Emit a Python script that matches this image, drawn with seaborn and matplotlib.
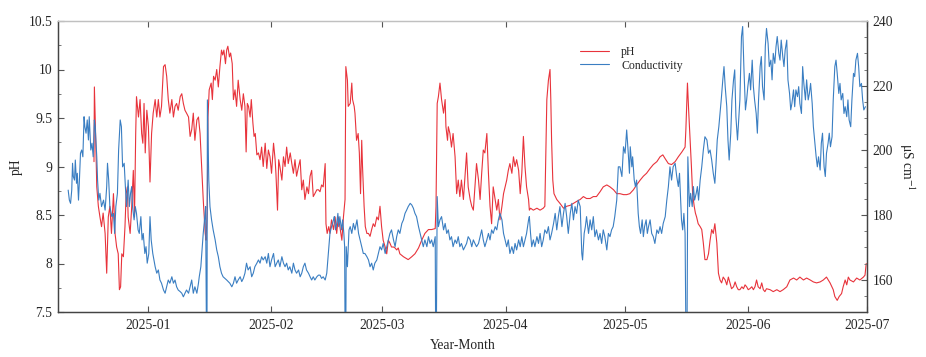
import numpy as np
import pandas as pd
import matplotlib
matplotlib.use("Agg")
import matplotlib.pyplot as plt
import matplotlib.dates as mdates
from matplotlib.ticker import MultipleLocator
import seaborn as sns

# ---------------- data (days relative to 2025-01-01) ----------------
ph_day = [
    -13.6, -13.5, -13.2, -12.9, -12.5, -12.1, -11.7, -11.3, -10.8, -10.4,
    -10.0, -9.6, -9.2, -8.7, -8.3, -7.9, -7.5, -7.2, -6.9, -6.6,
    -6.2, -5.8, -5.5, -5.2, -5.0, -4.5, -4.1, -3.7, -3.4, -3.1,
    -2.9, -2.4, -2.0, -1.6, -1.3, -1.0, -0.7, -0.3, 0.1, 0.5,
    0.9, 1.3, 1.8, 2.2, 2.6, 3.0, 3.4, 3.9, 4.3, 4.7,
    5.1, 5.5, 6.0, 6.4, 6.8, 7.2, 7.6, 8.1, 8.5, 8.9,
    9.3, 9.7, 10.2, 10.6, 11.0, 11.4, 11.8, 12.3, 12.7, 13.1,
    13.5, 13.9, 14.4, 14.6, 14.9, 15.1, 15.4, 15.9, 16.2, 16.5,
    16.9, 17.3, 17.7, 18.1, 18.5, 18.8, 19.1, 19.5, 19.8, 20.1,
    20.5, 20.8, 21.2, 21.5, 21.9, 22.3, 22.7, 23.2, 23.6, 24.0,
    24.4, 24.7, 25.0, 25.3, 25.7, 26.0, 26.4, 26.7, 27.0, 27.4,
    27.8, 28.2, 28.6, 29.0, 29.5, 29.9, 30.3, 30.7, 31.1, 31.6,
    32.0, 32.2, 32.6, 32.9, 33.2, 33.7, 34.1, 34.5, 34.9, 35.3,
    35.8, 36.2, 36.6, 37.0, 37.4, 37.9, 38.3, 38.7, 39.1, 39.5,
    40.0, 40.4, 40.8, 41.2, 41.6, 42.0, 42.5, 42.9, 43.3, 43.7,
    44.1, 44.6, 44.8, 45.1, 45.5, 45.8, 46.2, 46.7, 47.1, 47.5,
    47.9, 48.3, 48.8, 49.2, 49.6, 49.8, 50.2, 50.4, 50.9, 51.3,
    51.5, 51.9, 52.1, 52.5, 52.9, 53.2, 53.5, 53.8, 54.0, 54.4,
    54.7, 55.1, 55.5, 55.9, 56.3, 56.7, 57.1, 57.6, 58.0, 58.4,
    58.8, 59.2, 59.7, 60.1, 60.5, 60.9, 61.3, 61.8, 62.2, 62.6,
    63.0, 63.4, 64.3, 65.1, 65.5, 66.4, 67.2, 68.1, 68.9, 69.7,
    70.6, 71.4, 72.3, 72.5, 72.8, 73.1, 73.5, 73.9, 74.4, 74.8,
    75.0, 75.4, 75.6, 76.0, 76.4, 76.8, 77.3, 77.7, 78.1, 78.5,
    78.9, 79.4, 79.8, 80.2, 80.6, 81.1, 81.5, 81.9, 82.3, 82.7,
    83.2, 83.6, 84.0, 84.4, 84.8, 85.3, 85.7, 86.1, 86.5, 86.9,
    87.4, 87.8, 88.2, 88.6, 89.1, 89.5, 89.9, 90.3, 90.7, 91.1,
    91.6, 92.0, 92.4, 92.8, 93.3, 93.7, 94.1, 94.5, 94.9, 95.3,
    95.8, 96.0, 96.3, 97.0, 97.9, 98.7, 99.5, 99.9, 100.4, 100.8,
    101.2, 101.4, 101.6, 101.9, 102.2, 102.9, 103.7, 104.6, 105.4, 106.3,
    107.1, 107.9, 108.8, 109.6, 110.4, 111.3, 112.1, 112.9, 113.8, 114.6,
    115.5, 116.3, 117.2, 118.0, 118.8, 119.7, 120.5, 121.3, 122.2, 123.0,
    123.9, 124.7, 125.5, 126.4, 127.2, 128.1, 128.9, 129.6, 130.2, 131.0,
    131.8, 132.7, 133.5, 134.4, 135.2, 135.4, 135.8, 136.1, 136.4, 136.8,
    137.1, 137.5, 137.8, 138.1, 138.5, 139.0, 139.4, 139.8, 140.2, 140.7,
    141.1, 141.5, 141.9, 142.3, 142.7, 143.2, 143.6, 144.0, 144.4, 144.8,
    145.3, 145.7, 146.1, 146.5, 146.9, 147.4, 147.8, 148.2, 148.6, 149.0,
    149.5, 149.9, 150.3, 150.7, 151.1, 151.5, 152.0, 152.4, 152.8, 153.2,
    153.6, 154.1, 154.5, 154.9, 155.3, 155.7, 156.6, 157.4, 158.3, 159.1,
    159.9, 160.8, 161.6, 162.5, 163.3, 164.1, 165.0, 165.8, 166.7, 167.5,
    168.3, 169.2, 170.0, 170.8, 171.7, 172.5, 172.9, 173.5, 174.0, 174.6,
    175.0, 175.5, 175.9, 176.3, 176.7, 177.6, 178.4, 179.2, 180.1, 180.5,
    180.8,
]
ph_val = [
    9.05, 9.82, 9.34, 8.79, 8.59, 8.48, 8.38, 8.52, 8.31, 7.90,
    8.48, 8.59, 8.31, 8.72, 8.31, 8.17, 8.10, 7.73, 7.76, 8.10,
    8.07, 8.38, 8.72, 8.79, 8.48, 8.31, 8.59, 8.96, 8.48, 9.34,
    9.72, 9.51, 9.69, 9.34, 9.24, 9.65, 9.14, 9.58, 9.41, 8.84,
    9.34, 9.55, 9.69, 9.51, 9.69, 9.51, 9.62, 10.03, 10.05, 9.93,
    9.69, 9.55, 9.69, 9.51, 9.62, 9.65, 9.58, 9.72, 9.75, 9.65,
    9.58, 9.55, 9.51, 9.31, 9.38, 9.55, 9.27, 9.48, 9.51, 9.34,
    9.00, 8.66, 8.31, 8.24, 8.52, 9.51, 9.79, 9.86, 9.69, 9.93,
    9.89, 10.00, 9.82, 10.03, 10.20, 10.15, 10.20, 10.06, 10.20, 10.24,
    10.13, 10.17, 10.06, 9.69, 9.79, 9.62, 9.89, 9.69, 9.58, 9.75,
    9.62, 9.15, 9.65, 9.62, 9.51, 9.69, 9.45, 9.31, 9.34, 9.12,
    9.14, 9.07, 9.20, 9.00, 9.24, 8.98, 9.17, 9.10, 8.93, 9.24,
    9.07, 8.93, 8.55, 9.07, 9.00, 8.86, 9.10, 9.00, 9.20, 9.03,
    9.14, 9.03, 8.93, 9.07, 8.90, 9.00, 9.07, 8.76, 8.86, 8.66,
    8.79, 8.72, 8.90, 8.96, 8.69, 8.72, 8.76, 8.76, 8.74, 8.81,
    8.79, 9.03, 8.41, 8.31, 8.38, 8.31, 8.45, 8.35, 8.48, 8.31,
    8.48, 8.38, 8.24, 8.48, 8.66, 10.03, 9.89, 9.62, 9.65, 9.86,
    9.69, 9.62, 9.55, 9.27, 9.34, 9.14, 8.72, 9.27, 9.00, 8.59,
    8.38, 8.31, 8.31, 8.28, 8.35, 8.41, 8.38, 8.48, 8.45, 8.59,
    8.38, 8.24, 8.17, 8.10, 8.24, 8.21, 8.17, 8.17, 8.16, 8.14,
    8.16, 8.10, 8.07, 8.05, 8.04, 8.07, 8.10, 8.16, 8.24, 8.31,
    8.35, 8.35, 8.36, 8.59, 9.65, 9.72, 9.86, 9.69, 9.55, 9.69,
    9.41, 9.27, 9.41, 9.34, 9.20, 9.34, 9.10, 8.72, 8.86, 8.69,
    8.86, 8.66, 8.90, 9.14, 8.79, 8.66, 8.59, 8.55, 8.79, 9.03,
    8.86, 8.66, 8.93, 9.17, 9.14, 9.34, 8.93, 8.59, 8.41, 8.79,
    8.66, 8.55, 8.66, 8.45, 8.59, 8.72, 8.79, 8.86, 8.96, 9.03,
    8.93, 9.10, 9.00, 9.07, 8.96, 8.72, 8.93, 9.31, 9.00, 8.79,
    8.66, 8.55, 8.57, 8.55, 8.57, 8.55, 8.57, 8.59, 9.69, 9.89,
    10.00, 9.69, 9.27, 8.86, 8.72, 8.66, 8.62, 8.57, 8.59, 8.60,
    8.62, 8.64, 8.66, 8.69, 8.67, 8.67, 8.69, 8.69, 8.74, 8.79,
    8.81, 8.79, 8.76, 8.72, 8.72, 8.71, 8.71, 8.72, 8.76, 8.81,
    8.86, 8.90, 8.93, 8.98, 9.02, 9.05, 9.10, 9.12, 9.08, 9.03,
    9.02, 9.05, 9.10, 9.15, 9.20, 9.38, 9.86, 9.58, 9.34, 9.00,
    8.72, 8.59, 8.52, 8.48, 8.41, 8.38, 8.35, 8.21, 8.04, 8.04,
    8.10, 8.24, 8.35, 8.31, 8.41, 8.21, 7.90, 7.83, 7.80, 7.86,
    7.83, 7.78, 7.86, 7.80, 7.74, 7.76, 7.81, 7.76, 7.73, 7.73,
    7.76, 7.74, 7.78, 7.76, 7.73, 7.74, 7.76, 7.73, 7.76, 7.83,
    7.76, 7.74, 7.80, 7.73, 7.71, 7.74, 7.73, 7.71, 7.73, 7.71,
    7.73, 7.76, 7.83, 7.85, 7.83, 7.86, 7.83, 7.85, 7.83, 7.81,
    7.80, 7.81, 7.83, 7.86, 7.80, 7.73, 7.66, 7.62, 7.66, 7.69,
    7.76, 7.83, 7.78, 7.86, 7.83, 7.81, 7.85, 7.83, 7.86, 7.88,
    8.00,
]

cond_day = [
    -20.1, -19.8, -19.5, -19.2, -19.0, -18.8, -18.5, -18.3, -18.0, -17.8,
    -17.5, -17.3, -17.0, -16.7, -16.4, -16.1, -15.9, -15.6, -15.3, -15.0,
    -14.8, -14.4, -14.1, -13.8, -13.5, -13.3, -12.9, -12.7, -12.4, -12.1,
    -11.7, -11.2, -10.8, -10.4, -10.2, -9.9, -9.6, -9.1, -8.7, -8.4,
    -8.1, -7.7, -7.4, -7.0, -6.7, -6.4, -6.0, -5.7, -5.4, -5.0,
    -4.7, -4.4, -4.1, -3.9, -3.5, -3.2, -2.9, -2.5, -2.2, -1.8,
    -1.5, -1.2, -0.8, -0.5, -0.2, 0.2, 0.5, 0.8, 1.2, 1.5,
    1.8, 2.2, 2.6, 3.0, 3.4, 3.9, 4.3, 4.7, 5.1, 5.5,
    6.0, 6.4, 6.8, 7.2, 7.6, 8.1, 8.5, 8.9, 9.3, 9.7,
    10.2, 10.6, 11.0, 11.4, 11.8, 12.3, 12.7, 12.9, 13.3, 13.6,
    13.9, 14.3, 14.5, 14.7, 14.85, 14.95, 15.3, 15.6, 16.0, 16.4,
    16.9, 17.3, 17.7, 18.1, 18.5, 18.9, 19.8, 20.6, 21.1, 21.5,
    21.9, 22.3, 22.7, 23.2, 23.6, 24.0, 24.4, 24.8, 25.2, 25.7,
    26.1, 26.5, 26.9, 27.4, 27.8, 28.2, 28.6, 29.0, 29.5, 29.9,
    30.3, 30.7, 31.1, 31.6, 32.0, 32.4, 32.8, 33.2, 33.7, 34.1,
    34.5, 34.9, 35.3, 35.7, 36.2, 36.6, 37.0, 37.4, 37.9, 38.3,
    38.7, 39.1, 39.5, 39.9, 40.4, 40.8, 41.2, 41.6, 42.0, 42.5,
    42.9, 43.3, 43.7, 44.1, 44.6, 45.0, 45.4, 45.8, 46.2, 46.7,
    46.9, 47.2, 47.5, 47.8, 48.0, 48.3, 48.7, 49.0, 49.3, 49.5,
    49.6, 49.8, 49.9, 50.2, 50.6, 50.9, 51.3, 51.7, 52.1, 52.6,
    53.0, 53.4, 53.8, 54.2, 54.6, 55.1, 55.5, 55.9, 56.3, 56.7,
    57.1, 57.6, 58.0, 58.4, 58.8, 59.2, 59.7, 60.1, 60.5, 60.9,
    61.3, 61.8, 62.2, 62.6, 63.0, 63.4, 63.9, 64.3, 64.7, 65.1,
    65.5, 66.0, 66.4, 66.8, 67.2, 67.6, 68.1, 68.5, 68.9, 69.3,
    69.7, 70.2, 70.6, 71.0, 71.4, 71.8, 72.3, 72.4, 72.6, 72.8,
    73.1, 73.5, 73.9, 74.4, 74.8, 75.2, 75.6, 76.0, 76.4, 76.8,
    77.3, 77.7, 78.1, 78.5, 78.9, 79.4, 79.8, 80.2, 80.6, 81.1,
    81.5, 81.9, 82.3, 82.7, 83.2, 83.6, 84.0, 84.4, 84.8, 85.3,
    85.7, 86.1, 86.5, 86.9, 87.4, 87.8, 88.2, 88.6, 89.1, 89.5,
    89.9, 90.3, 90.7, 91.1, 91.6, 92.0, 92.4, 92.8, 93.3, 93.7,
    94.1, 94.5, 94.9, 95.3, 95.8, 96.0, 96.3, 96.6, 97.0, 97.4,
    97.9, 98.3, 98.7, 99.1, 99.5, 99.9, 100.4, 100.8, 101.2, 101.6,
    102.1, 102.5, 102.9, 103.3, 103.7, 104.2, 104.6, 105.0, 105.4, 105.8,
    106.3, 106.7, 107.1, 107.5, 107.9, 108.3, 108.8, 109.2, 109.4, 109.8,
    110.1, 110.4, 110.9, 111.3, 111.7, 112.1, 112.5, 112.9, 113.4, 113.8,
    114.2, 114.6, 115.0, 115.5, 115.9, 116.3, 116.7, 117.1, 117.5, 118.0,
    118.4, 118.8, 119.3, 119.7, 120.1, 120.5, 120.9, 121.2, 121.4, 121.8,
    122.0, 122.4, 122.7, 123.0, 123.4, 123.7, 124.0, 124.4, 124.7, 125.0,
    125.4, 125.7, 126.0, 126.4, 126.8, 127.2, 127.6, 128.1, 128.5, 128.9,
    129.3, 129.7, 130.2, 130.6, 131.0, 131.4, 131.8, 132.2, 132.7, 133.1,
    133.5, 133.8, 134.1, 134.3, 134.6, 134.9, 135.2, 135.4, 135.7, 135.9,
    136.3, 136.6, 137.0, 137.3, 137.6, 138.0, 138.3, 138.6, 139.0, 139.4,
    139.8, 140.2, 140.7, 141.1, 141.5, 141.9, 142.3, 142.7, 143.0, 143.3,
    143.7, 144.0, 144.3, 144.7, 145.0, 145.3, 145.7, 146.0, 146.3, 146.7,
    147.0, 147.4, 147.7, 148.0, 148.4, 148.7, 149.0, 149.4, 149.7, 150.0,
    150.4, 150.7, 151.0, 151.4, 151.7, 152.1, 152.4, 152.7, 153.1, 153.4,
    153.7, 154.1, 154.4, 154.7, 155.1, 155.4, 155.7, 156.1, 156.4, 156.8,
    157.1, 157.4, 157.8, 158.1, 158.4, 158.8, 159.1, 159.4, 159.8, 160.1,
    160.4, 160.8, 161.1, 161.5, 161.8, 162.1, 162.5, 162.8, 163.1, 163.5,
    163.8, 164.1, 164.5, 164.8, 165.1, 165.5, 165.8, 166.2, 166.5, 166.8,
    167.2, 167.5, 167.8, 168.2, 168.5, 168.8, 169.2, 169.5, 169.8, 170.2,
    170.5, 170.8, 171.2, 171.5, 171.8, 172.2, 172.5, 172.9, 173.2, 173.5,
    173.9, 174.2, 174.5, 174.9, 175.2, 175.5, 175.9, 176.2, 176.5, 176.9,
    177.2, 177.6, 177.9, 178.2, 178.6, 178.9, 179.2, 179.6, 179.9, 180.2,
    180.6,
]
cond_val = [
    187.7, 184.6, 183.6, 187.7, 196.0, 191.9, 190.8, 197.0, 189.8, 192.9,
    184.6, 189.8, 199.1, 200.1, 198.0, 210.4, 207.3, 205.3, 209.4, 203.2,
    210.4, 200.1, 202.2, 198.0, 209.4, 207.3, 198.0, 190.8, 184.6, 186.7,
    182.6, 184.6, 181.5, 188.8, 196.0, 190.8, 182.6, 179.5, 180.5, 174.3,
    182.6, 186.7, 200.1, 209.4, 207.3, 194.9, 196.0, 188.8, 182.6, 190.8,
    182.6, 186.7, 188.8, 182.6, 178.5, 182.6, 180.5, 175.4, 174.3, 179.5,
    172.3, 174.3, 168.1, 170.2, 165.1, 168.1, 179.5, 172.3, 168.1, 166.1,
    164.0, 162.0, 163.0, 159.9, 158.9, 156.8, 155.8, 157.8, 159.9, 158.9,
    160.9, 158.9, 159.9, 157.8, 156.8, 156.3, 155.8, 154.7, 155.8, 156.8,
    155.8, 157.8, 159.9, 155.8, 157.8, 155.8, 158.9, 160.9, 164.0, 169.2,
    174.3, 179.5, 182.6, 145.0, 145.0, 215.6, 190.8, 182.6, 178.5, 175.4,
    172.3, 169.2, 167.1, 164.0, 162.0, 160.9, 159.9, 158.9, 157.8, 158.9,
    160.9, 158.9, 159.9, 160.9, 159.4, 160.4, 162.0, 165.1, 163.0, 164.0,
    160.9, 162.0, 164.0, 165.1, 166.1, 165.1, 167.1, 166.1, 167.1, 165.1,
    168.1, 164.0, 166.1, 168.1, 164.0, 165.1, 166.1, 164.0, 167.1, 165.1,
    164.0, 165.1, 163.0, 164.0, 162.0, 165.1, 163.0, 162.0, 163.0, 160.9,
    162.0, 164.0, 165.1, 163.0, 162.0, 160.9, 159.9, 160.9, 159.9, 160.9,
    161.4, 161.4, 160.4, 160.9, 159.9, 162.0, 168.1, 174.3, 176.4, 178.5,
    179.5, 175.4, 177.4, 180.5, 176.4, 179.5, 175.4, 178.5, 174.3, 170.2,
    145.0, 145.0, 170.2, 164.0, 175.4, 176.4, 174.3, 177.4, 175.4, 178.5,
    174.3, 172.3, 170.2, 168.1, 168.1, 167.1, 166.1, 164.0, 165.1, 163.0,
    165.1, 166.1, 168.1, 170.2, 169.2, 171.2, 168.1, 170.2, 172.3, 174.3,
    175.4, 172.3, 170.2, 173.3, 175.4, 174.3, 177.4, 178.5, 180.5, 181.5,
    182.6, 183.6, 183.1, 182.1, 180.5, 179.5, 176.4, 174.3, 172.3, 170.2,
    172.3, 170.2, 173.3, 171.2, 172.3, 170.2, 173.3, 145.0, 145.0, 185.7,
    176.4, 178.5, 179.5, 175.4, 177.4, 174.3, 175.4, 172.3, 173.3, 170.2,
    172.3, 171.2, 173.3, 170.2, 171.2, 169.2, 170.2, 171.2, 173.3, 172.3,
    170.2, 172.3, 171.2, 170.2, 171.2, 173.3, 175.4, 172.3, 170.2, 172.3,
    174.3, 172.3, 175.4, 174.3, 176.4, 175.4, 178.5, 180.5, 178.5, 174.3,
    172.3, 170.2, 172.3, 168.1, 170.2, 168.1, 171.2, 169.2, 172.3, 170.2,
    173.3, 170.2, 172.3, 174.3, 178.5, 179.5, 174.3, 170.2, 172.3, 170.2,
    173.3, 171.2, 174.3, 170.2, 172.3, 175.4, 174.3, 176.4, 172.3, 174.3,
    177.4, 180.5, 175.4, 179.5, 182.6, 176.4, 180.5, 183.6, 179.5, 174.3,
    180.5, 183.6, 178.5, 182.6, 180.5, 184.6, 182.6, 168.1, 166.1, 174.3,
    176.4, 179.5, 174.3, 178.5, 175.4, 179.5, 173.3, 175.4, 172.3, 174.3,
    171.2, 175.4, 173.3, 169.2, 174.3, 173.3, 175.4, 176.4, 179.5, 184.6,
    194.9, 194.9, 191.9, 201.1, 199.1, 206.3, 199.1, 192.9, 201.1, 194.9,
    198.0, 190.8, 188.8, 190.8, 180.5, 176.4, 174.3, 178.5, 173.3, 176.4,
    178.5, 174.3, 176.4, 178.5, 174.3, 173.3, 171.2, 175.4, 174.3, 176.4,
    174.3, 177.4, 179.5, 184.6, 188.8, 194.9, 190.8, 194.9, 196.0, 191.9,
    188.8, 192.9, 184.6, 178.5, 175.4, 180.5, 174.3, 145.0, 145.0, 198.0,
    182.6, 186.7, 182.6, 188.8, 184.6, 186.7, 188.8, 184.6, 190.8, 194.9,
    200.1, 204.2, 203.2, 199.1, 200.1, 197.0, 192.9, 189.8, 196.0, 203.2,
    207.3, 211.4, 215.6, 221.8, 225.9, 219.7, 213.5, 203.2, 197.0, 205.3,
    215.6, 221.8, 224.9, 210.4, 203.2, 209.4, 215.6, 235.2, 238.3, 225.9,
    212.5, 215.6, 219.7, 223.8, 218.7, 227.9, 219.7, 215.6, 211.4, 205.3,
    215.6, 225.9, 229.0, 219.7, 215.6, 232.1, 237.7, 233.1, 225.9, 227.9,
    221.8, 230.0, 226.9, 232.1, 235.2, 230.0, 227.9, 234.1, 229.0, 225.9,
    231.0, 234.1, 221.8, 217.6, 212.5, 214.5, 218.7, 213.5, 218.7, 216.6,
    219.7, 214.5, 211.4, 225.9, 220.7, 215.6, 221.8, 215.6, 217.6, 220.7,
    214.5, 207.3, 203.2, 198.0, 194.9, 198.0, 193.9, 202.2, 205.3, 194.9,
    191.9, 199.1, 202.2, 205.3, 201.1, 204.2, 215.6, 225.9, 227.9, 223.8,
    217.6, 220.7, 215.6, 217.6, 211.4, 213.5, 210.4, 215.6, 209.4, 207.3,
    215.6, 223.8, 222.8, 227.9, 230.0, 225.9, 219.7, 220.7, 215.6, 212.5,
    213.5,
]

series_labels = ["pH", "Conductivity"]
origin = pd.Timestamp("2025-01-01")

ph_df = pd.DataFrame({"time": origin + pd.to_timedelta(ph_day, unit="D"), "pH": ph_val})
cond_df = pd.DataFrame({"time": origin + pd.to_timedelta(cond_day, unit="D"), "cond": cond_val})

# ---------------- style ----------------
sns.set_theme(style="ticks")
plt.rcParams["font.family"] = ["Liberation Serif", "DejaVu Serif"]
plt.rcParams["mathtext.fontset"] = "stix"

RED = "#e8333b"
BLUE = "#3a7ec2"
SPINE = "#444444"

fig = plt.figure(figsize=(9.26, 3.57), dpi=100)
ax = fig.add_axes([58 / 926, 1 - 312 / 357, (867 - 58) / 926, (312 - 21) / 357])
ax2 = ax.twinx()

sns.lineplot(data=ph_df, x="time", y="pH", ax=ax, color=RED, lw=0.8,
             estimator=None, sort=False, label=series_labels[0], legend=False)
sns.lineplot(data=cond_df, x="time", y="cond", ax=ax2, color=BLUE, lw=0.8,
             estimator=None, sort=False, label=series_labels[1], legend=False)

ax.set_xlim(pd.Timestamp("2024-12-09 08:10"), pd.Timestamp("2025-07-01"))
ax.set_ylim(7.5, 10.5)
ax2.set_ylim(150, 240)

ax.yaxis.set_minor_locator(MultipleLocator(0.25))
ax.set_yticks([7.5, 8, 8.5, 9, 9.5, 10, 10.5])
ax.set_yticklabels(["7.5", "8", "8.5", "9", "9.5", "10", "10.5"])
ax2.yaxis.set_minor_locator(MultipleLocator(5))
ax2.set_yticks([160, 180, 200, 220, 240])

ax.xaxis.set_major_locator(mdates.MonthLocator())
ax.xaxis.set_major_formatter(mdates.DateFormatter("%Y-%m"))

fs = 9.8
ax.tick_params(axis="x", which="major", direction="in", top=True, length=4,
               width=0.8, color="#555555", labelsize=fs, pad=5)
ax.tick_params(axis="y", which="major", direction="in", length=4, width=0.8,
               color="#555555", labelsize=fs, pad=4)
ax.tick_params(axis="y", which="minor", direction="in", length=2.5, width=0.7,
               color="#777777")
ax2.tick_params(axis="y", which="major", direction="in", length=4, width=0.8,
                color="#555555", labelsize=fs, pad=4)
ax2.tick_params(axis="y", which="minor", direction="in", length=2.5, width=0.7,
                color="#777777")

for a in (ax, ax2):
    for side in ("left", "bottom", "right"):
        a.spines[side].set_color(SPINE)
        a.spines[side].set_linewidth(0.9)
    a.spines["top"].set_color("#c0c0c0")
    a.spines["top"].set_linewidth(0.9)

ax.set_xlabel("Year-Month", fontsize=fs, labelpad=5)
ax.set_ylabel("pH", fontsize=fs, labelpad=4)
ax2.set_ylabel(r"μS cm$^{-1}$", fontsize=fs, rotation=270, labelpad=17)

h1, l1 = ax.get_legend_handles_labels()
h2, l2 = ax2.get_legend_handles_labels()
leg = ax2.legend(h1 + h2, l1 + l2, loc="upper left", bbox_to_anchor=(0.645, 0.915),
                 frameon=False, fontsize=8.5, handlelength=2.5, handletextpad=1.0,
                 labelspacing=0.15, borderpad=0, borderaxespad=0)

fig.savefig("out.png", dpi=100)
